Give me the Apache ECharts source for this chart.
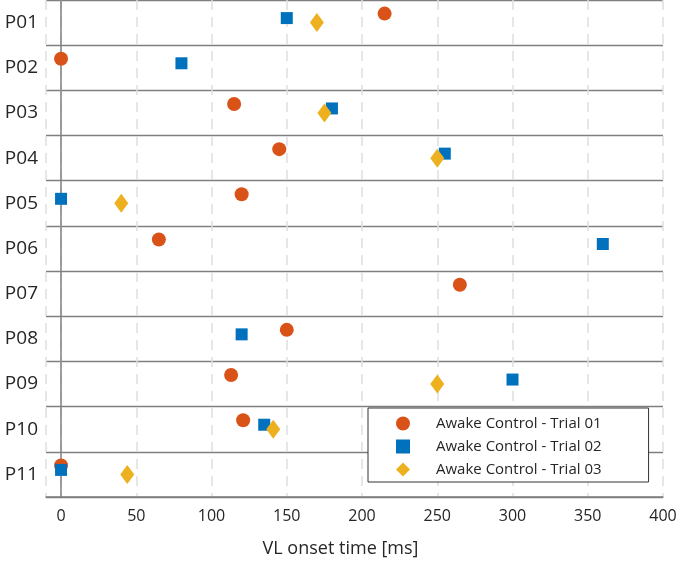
<!DOCTYPE html>
<html>
<head>
<meta charset="utf-8">
<script src="https://cdn.jsdelivr.net/npm/echarts@6/dist/echarts.min.js"></script>
<style>
  html, body { margin: 0; padding: 0; background: #fff; }
  #chart { width: 685px; height: 564px; }
</style>
</head>
<body>
<div id="chart"></div>
<script>
// participants, top to bottom
const participants = ['P01', 'P02', 'P03', 'P04', 'P05', 'P06', 'P07', 'P08', 'P09', 'P10', 'P11'];

// VL onset time [ms] per participant, null = no onset
const trial01 = [215, 0, 115, 145, 120, 65, 265, 150, 113, 121, 0];
const trial02 = [150, 80, 180, 255, 0, 360, null, 120, 300, 135, 0];
const trial03 = [170, null, 175, 250, 40, null, null, null, 250, 141, 44];

const seriesNames = ['Awake Control - Trial 01', 'Awake Control - Trial 02', 'Awake Control - Trial 03'];

const toPoints = (vals) => vals
  .map((v, i) => (v === null ? null : [v, participants[i]]))
  .filter((p) => p !== null);

const font = 'Open Sans';
const textColor = '#262626';

const chart = echarts.init(document.getElementById('chart'));

chart.setOption({
  animation: false,
  grid: { left: 46, right: 22, top: -1, bottom: 67 },
  xAxis: {
    type: 'value',
    min: -10,
    max: 400,
    splitNumber: 8,
    name: 'VL onset time [ms]',
    nameLocation: 'middle',
    nameGap: 43,
    nameTextStyle: { fontFamily: font, fontSize: 18, color: textColor, padding: [0, 28, 0, 0] },
    axisLine: { show: true, lineStyle: { color: '#7f7f7f', width: 1.5 } },
    axisTick: { show: false },
    axisLabel: {
      showMinLabel: false,
      margin: 11,
      fontFamily: font,
      fontSize: 16,
      color: textColor
    },
    splitLine: { show: true, lineStyle: { color: '#dedede', width: 1.5, type: [10, 7] } }
  },
  yAxis: {
    type: 'category',
    inverse: true,
    data: participants,
    boundaryGap: true,
    axisLine: { show: true, lineStyle: { color: '#7f7f7f', width: 1.5 } },
    axisTick: { show: false },
    axisLabel: { margin: 8, fontFamily: font, fontSize: 19, color: textColor },
    splitLine: { show: true, lineStyle: { color: '#7f7f7f', width: 1.3 } }
  },
  legend: {
    orient: 'vertical',
    left: 368,
    top: 408,
    width: 279,
    padding: [8, 47, 5, 28],
    itemGap: 8,
    itemWidth: 14,
    itemHeight: 14,
    backgroundColor: '#fff',
    borderColor: '#333',
    borderWidth: 1,
    textStyle: { fontFamily: font, fontSize: 15, color: textColor, padding: [0, 0, 0, 21] },
    data: [
      { name: seriesNames[0], icon: 'circle' },
      { name: seriesNames[1], icon: 'rect' },
      { name: seriesNames[2], icon: 'diamond' }
    ]
  },
  series: [
    {
      name: seriesNames[0],
      type: 'scatter',
      data: toPoints(trial01),
      symbol: 'circle',
      symbolSize: 14,
      symbolOffset: [0, -9],
      itemStyle: { color: '#D95319', opacity: 1 },
      z: 3
    },
    {
      name: seriesNames[1],
      type: 'scatter',
      data: toPoints(trial02),
      symbol: 'rect',
      symbolSize: 12,
      symbolOffset: [0, -4.5],
      itemStyle: { color: '#0072BD', opacity: 1 },
      z: 4
    },
    {
      name: seriesNames[2],
      type: 'scatter',
      data: toPoints(trial03),
      symbol: 'diamond',
      symbolSize: [14, 19],
      itemStyle: { color: '#EDB120', opacity: 1 },
      z: 5
    }
  ]
});
</script>
</body>
</html>
